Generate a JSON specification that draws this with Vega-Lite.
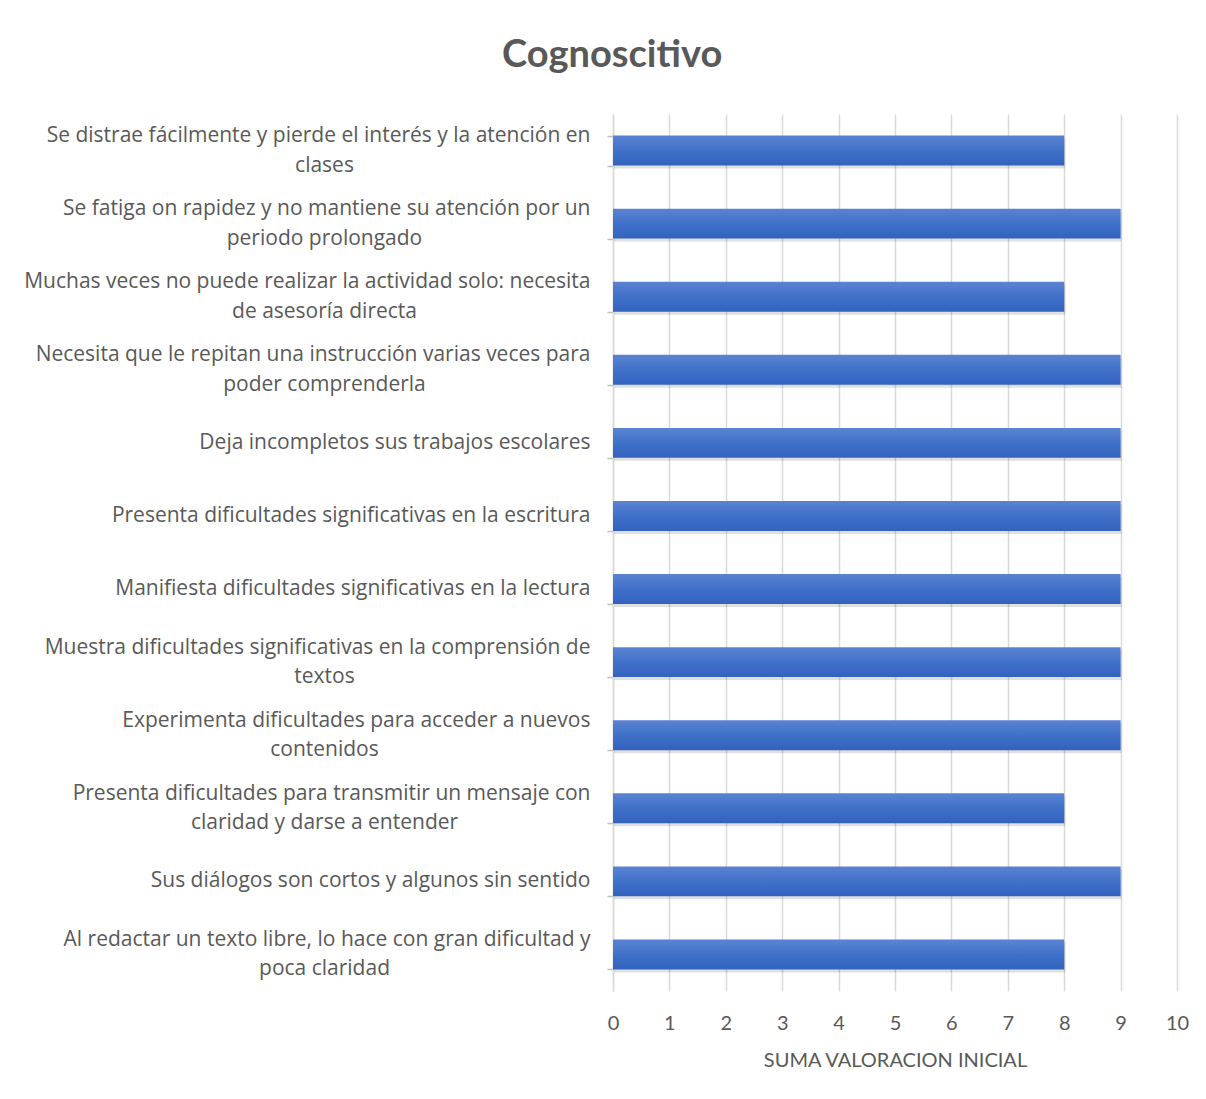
{
  "$schema": "https://vega.github.io/schema/vega-lite/v6.json",
  "autosize": {"type": "none"},
  "padding": {"left": 613, "top": 114, "right": 29, "bottom": 108},
  "width": 564,
  "height": 877,
  "background": "white",
  "title": {
    "text": "Cognoscitivo",
    "font": "Lato",
    "fontSize": 38,
    "fontWeight": "bold",
    "color": "#595959",
    "anchor": "middle",
    "frame": "bounds",
    "baseline": "alphabetic",
    "offset": -2,
    "dx": 6
  },
  "data": {
    "values": [
      {"item": "Se distrae fácilmente y pierde el interés y la atención en\nclases", "valor": 8},
      {"item": "Se fatiga on rapidez y no mantiene su atención por un\nperiodo prolongado", "valor": 9},
      {"item": "Muchas veces no puede realizar la actividad solo: necesita\nde asesoría directa", "valor": 8},
      {"item": "Necesita que le repitan una instrucción varias veces para\npoder comprenderla", "valor": 9},
      {"item": "Deja incompletos sus trabajos escolares", "valor": 9},
      {"item": "Presenta dificultades significativas en la escritura", "valor": 9},
      {"item": "Manifiesta dificultades significativas en la lectura", "valor": 9},
      {"item": "Muestra dificultades significativas en la comprensión de\ntextos", "valor": 9},
      {"item": "Experimenta dificultades para acceder a nuevos\ncontenidos", "valor": 9},
      {"item": "Presenta dificultades para transmitir un mensaje con\nclaridad y darse a entender", "valor": 8},
      {"item": "Sus diálogos son cortos y algunos sin sentido", "valor": 9},
      {"item": "Al redactar un texto libre, lo hace con gran dificultad y\npoca claridad", "valor": 8}
    ]
  },
  "encoding": {
    "x": {
      "field": "valor",
      "type": "quantitative",
      "scale": {"domain": [0, 10], "nice": false},
      "axis": {
        "title": "SUMA VALORACION INICIAL",
        "values": [0, 1, 2, 3, 4, 5, 6, 7, 8, 9, 10],
        "grid": true,
        "gridColor": "#D9D9D9",
        "gridWidth": 1.5,
        "domain": false,
        "ticks": false,
        "tickSize": 0,
        "labelFlush": false,
        "labelFont": "Lato",
        "labelFontSize": 20,
        "labelColor": "#595959",
        "labelPadding": 22,
        "titleFont": "Lato",
        "titleFontSize": 20,
        "titleFontWeight": "normal",
        "titleColor": "#595959",
        "titlePadding": 17
      }
    }
  },
  "layer": [
    {
      "mark": {
        "type": "bar",
        "color": "#000000",
        "opacity": 0.12,
        "xOffset": 1,
        "yOffset": 3
      },
      "encoding": {
        "y": {
          "field": "item",
          "type": "nominal",
          "sort": null,
          "scale": {"paddingInner": 0.59, "paddingOuter": 0.295},
          "axis": {
            "title": null,
            "orient": "left",
            "labelExpr": "length(split(datum.label, '\\n')) > 1 ? split(datum.label, '\\n')[0] : ''",
            "labelFont": "Open Sans",
            "labelFontSize": 21,
            "labelColor": "#595959",
            "labelAlign": "right",
            "labelPadding": 17,
            "labelOffset": -15,
            "labelLimit": 700,
            "tickBand": "extent",
            "ticks": true,
            "tickSize": 6,
            "tickColor": "#BFBFBF",
            "tickWidth": 1.5,
            "domain": true,
            "domainColor": "#D9D9D9",
            "domainWidth": 1.5,
            "grid": false
          }
        }
      }
    },
    {
      "mark": {
        "type": "bar",
        "color": {
          "gradient": "linear",
          "x1": 0, "y1": 0, "x2": 0, "y2": 1,
          "stops": [
            {"offset": 0, "color": "#5B83D2"},
            {"offset": 0.5, "color": "#4071C9"},
            {"offset": 1, "color": "#3262BE"}
          ]
        }
      },
      "encoding": {
        "y": {
          "field": "item",
          "type": "nominal",
          "sort": null,
          "axis": {
            "title": null,
            "orient": "left",
            "labelExpr": "length(split(datum.label, '\\n')) > 1 ? split(datum.label, '\\n')[1] : ''",
            "labelFont": "Open Sans",
            "labelFontSize": 21,
            "labelColor": "#595959",
            "labelAlign": "center",
            "labelPadding": 289,
            "labelOffset": 15,
            "labelLimit": 700,
            "ticks": false,
            "domain": false,
            "grid": false
          }
        }
      }
    },
    {
      "mark": {"type": "bar", "opacity": 0},
      "encoding": {
        "y": {
          "field": "item",
          "type": "nominal",
          "sort": null,
          "axis": {
            "title": null,
            "orient": "left",
            "labelExpr": "length(split(datum.label, '\\n')) > 1 ? '' : datum.label",
            "labelFont": "Open Sans",
            "labelFontSize": 21,
            "labelColor": "#595959",
            "labelAlign": "right",
            "labelPadding": 23,
            "labelLimit": 700,
            "ticks": false,
            "domain": false,
            "grid": false
          }
        }
      }
    }
  ],
  "resolve": {"axis": {"y": "independent"}},
  "config": {"view": {"stroke": null}}
}
